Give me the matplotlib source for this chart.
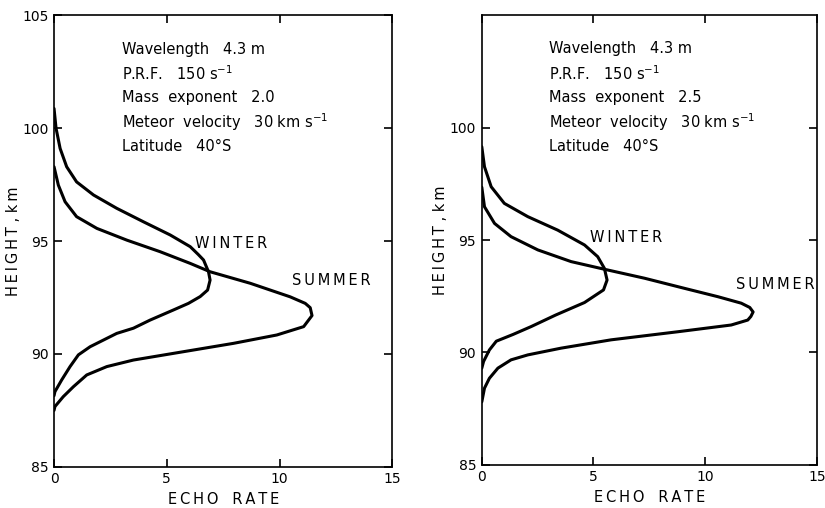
import matplotlib.pyplot as plt

# left panel: mass exponent 2.0 (echo rate vs height)
winter_a_x = [0, 0.09, 0.27, 0.56, 1.0, 1.75, 2.78, 3.97, 5.15, 6.04, 6.4, 6.63, 6.85, 6.92, 6.81,
              6.48, 5.96, 5.3, 4.26, 3.52, 2.78, 1.6, 1.08, 0.71, 0.34, 0.04, 0]
winter_a_y = [100.87, 99.99, 99.1, 98.29, 97.62, 97.04, 96.45, 95.85, 95.27, 94.75, 94.4, 94.16, 93.64, 93.27, 92.83,
              92.54, 92.24, 91.95, 91.5, 91.14, 90.91, 90.32, 89.96, 89.44, 88.85, 88.33, 88.15]
summer_a_x = [0, 0.19, 0.49, 1.0, 1.9, 3.23, 4.7, 6.04, 6.92, 8.7, 10.47, 11.14, 11.36, 11.44,
              11.07, 9.88, 7.96, 5.74, 3.52, 2.34, 1.45, 0.86, 0.41, 0.04, 0]
summer_a_y = [98.29, 97.48, 96.74, 96.08, 95.56, 95.04, 94.53, 94.01, 93.64, 93.13, 92.53, 92.24, 92.05, 91.7,
              91.21, 90.84, 90.47, 90.1, 89.73, 89.44, 89.07, 88.55, 88.11, 87.67, 87.5]

# right panel: mass exponent 2.5
winter_b_x = [0, 0.12, 0.42, 1.01, 2.06, 3.4, 4.6, 5.19, 5.49, 5.61, 5.45, 4.6, 3.3, 2.21, 1.4,
              0.65, 0.34, 0.08, 0]
winter_b_y = [99.15, 98.26, 97.37, 96.63, 96.04, 95.44, 94.78, 94.26, 93.74, 93.22, 92.78, 92.22, 91.66, 91.15, 90.8,
              90.5, 90.11, 89.6, 89.3]
summer_b_x = [0, 0.12, 0.57, 1.31, 2.51, 4.0, 5.49, 7.29, 9.08, 10.57, 11.62, 12.0, 12.15, 12.05, 11.91,
              11.17, 8.78, 5.79, 3.55, 2.06, 1.31, 0.72, 0.34, 0.12, 0]
summer_b_y = [97.35, 96.48, 95.74, 95.15, 94.56, 94.04, 93.7, 93.3, 92.85, 92.48, 92.19, 92.0, 91.8, 91.6, 91.44,
              91.22, 90.92, 90.56, 90.19, 89.89, 89.67, 89.3, 88.85, 88.41, 87.8]

notes_a = ["Wavelength   4.3 m", "P.R.F.   150 s$^{-1}$", "Mass  exponent   2.0",
           "Meteor  velocity   30 km s$^{-1}$", "Latitude   40°S"]
notes_b = ["Wavelength   4.3 m", "P.R.F.   150 s$^{-1}$", "Mass  exponent   2.5",
           "Meteor  velocity   30 km s$^{-1}$", "Latitude   40°S"]

T = "\u2009"  # thin space for the wide lettering


def spaced(s):
    return T.join(s)


fig = plt.figure(figsize=(8.25, 5.08), dpi=100)
ax1 = fig.add_axes([0.0655, 0.081, 0.41, 0.889])
ax2 = fig.add_axes([0.584, 0.085, 0.406, 0.885])

panels = [
    (ax1, winter_a_x, winter_a_y, summer_a_x, summer_a_y, notes_a, [85, 90, 95, 100, 105],
     (6.27, 94.7), (10.56, 93.05)),
    (ax2, winter_b_x, winter_b_y, summer_b_x, summer_b_y, notes_b, [85, 90, 95, 100],
     (4.83, 94.9), (11.4, 92.8)),
]

for ax, wx, wy, sx, sy, notes, yt, wpos, spos in panels:
    ax.plot(wx, wy, color='black', lw=2.2, solid_capstyle='round', solid_joinstyle='round')
    ax.plot(sx, sy, color='black', lw=2.2, solid_capstyle='round', solid_joinstyle='round')
    ax.set_xlim(0, 15)
    ax.set_ylim(85, 105)
    ax.set_xticks([0, 5, 10, 15])
    ax.set_yticks(yt)
    ax.tick_params(direction='in', top=True, right=True, length=6, width=1.2,
                   labelsize=10, pad=4)
    for s in ax.spines.values():
        s.set_linewidth(1.2)
    ax.set_xlabel(spaced("ECHO") + "   " + spaced("RATE"), fontsize=10.5, labelpad=4)
    ax.set_ylabel(spaced("HEIGHT") + " , " + spaced("km"), fontsize=10.5, labelpad=1)
    ax.text(wpos[0], wpos[1], spaced("WINTER"), fontsize=10.5)
    ax.text(spos[0], spos[1], spaced("SUMMER"), fontsize=10.5)
    for i, t in enumerate(notes):
        ax.text(0.2, 0.925 - i * 0.054, t, transform=ax.transAxes, fontsize=10.5, va='center')

fig.savefig("out.png", dpi=100)
